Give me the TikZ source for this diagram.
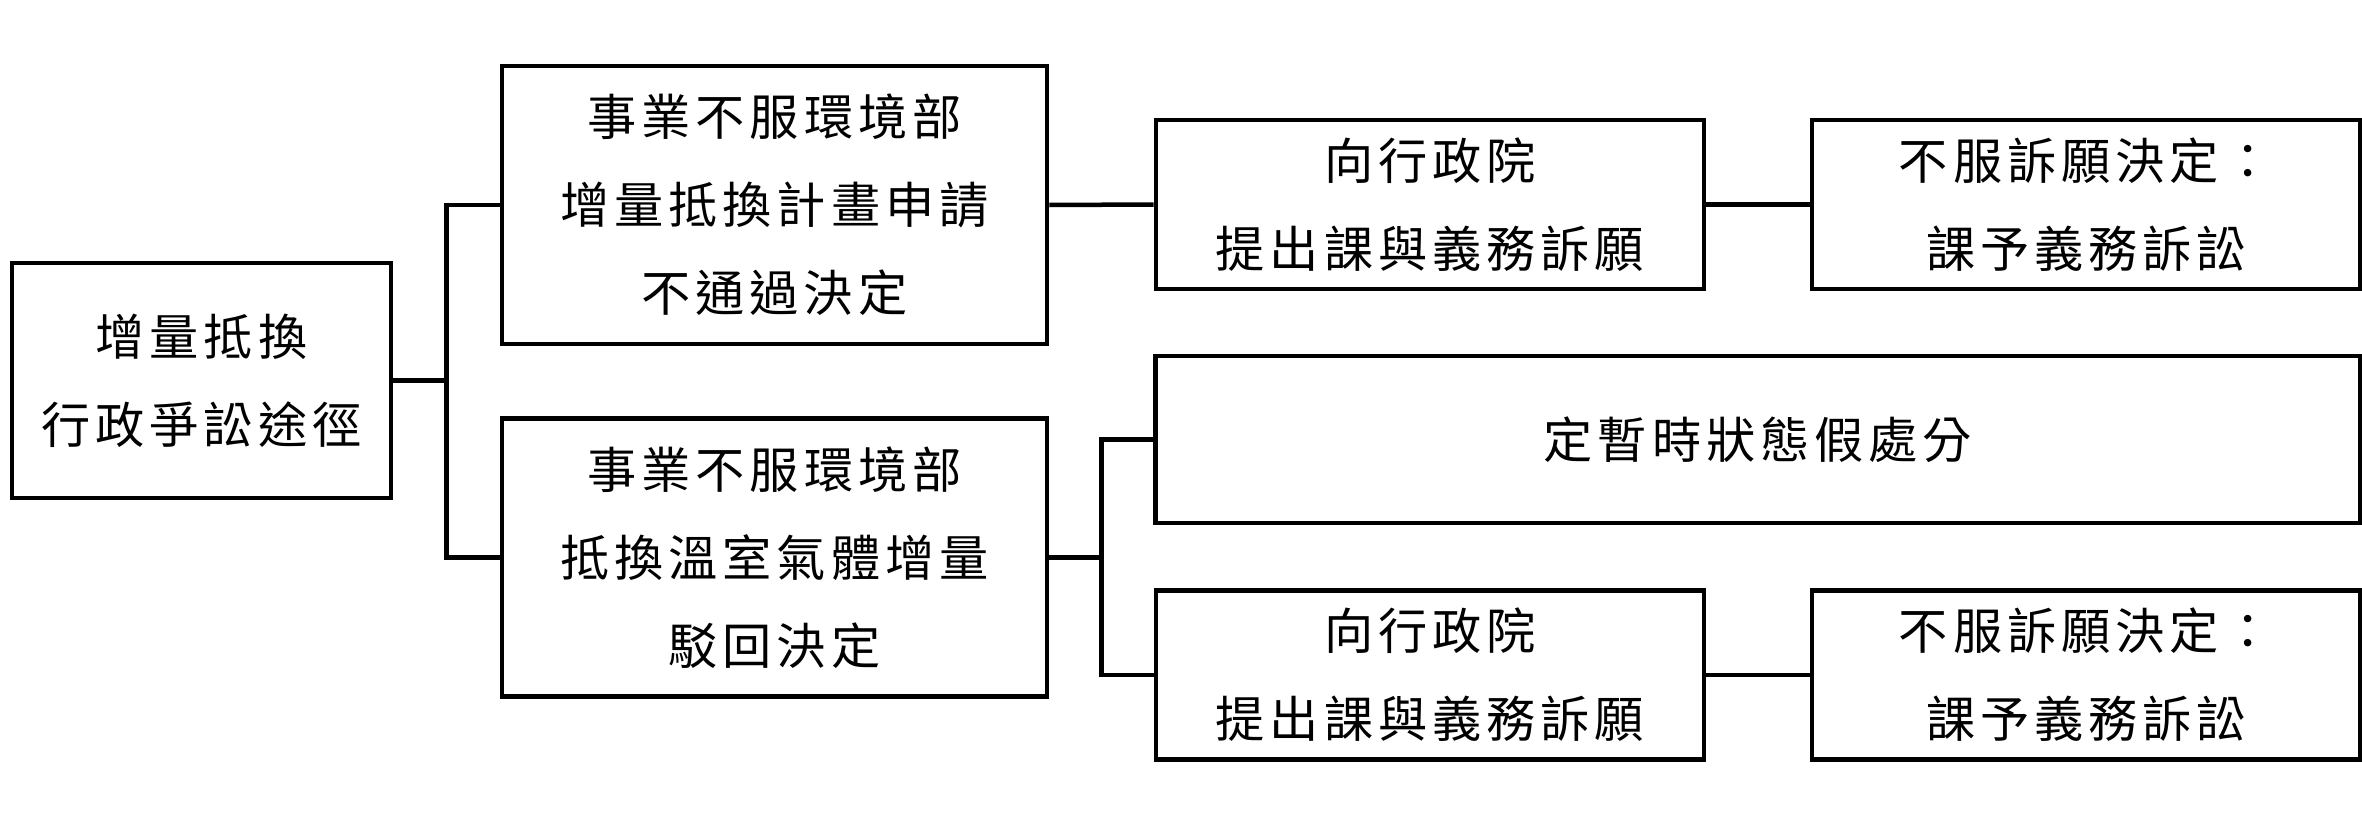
\documentclass[tikz,border=0pt]{standalone}
\usepackage{fontspec}
\newfontfamily\cjk[LetterSpace=10]{Noto Sans CJK TC}

\begin{document}
\begin{tikzpicture}[
	x=0.01cm,
	y=-0.01cm,
	root/.style={
		rectangle,
		draw=black,
		line width=0.045cm,
		align=center,
		font=\cjk\fontsize{14pt}{25pt}\selectfont,
		minimum height=2.35cm,
		minimum width=3.79cm
	},
	decision/.style={
		rectangle,
		draw=black,
		line width=0.045cm,
		align=center,
		font=\cjk\fontsize{14pt}{25pt}\selectfont,
		minimum height=2.78cm,
		minimum width=5.45cm
	},
	remedy/.style={
		rectangle,
		draw=black,
		line width=0.045cm,
		align=center,
		font=\cjk\fontsize{14pt}{25pt}\selectfont,
		minimum height=1.69cm,
		minimum width=5.48cm
	},
	interim/.style={
		rectangle,
		draw=black,
		line width=0.045cm,
		align=center,
		font=\cjk\fontsize{14pt}{25pt}\selectfont,
		minimum height=1.67cm,
		minimum width=12.04cm
	},
	link/.style={
		line width=0.045cm
	},
]

\useasboundingbox (0, 0) rectangle (2362, 824);

\node[root] (route) at (201.5, 380.5) {增量抵換\\行政爭訟途徑};

\node[decision] (reject1) at (774.5, 205) {事業不服環境部\\增量抵換計畫申請\\不通過決定};
\node[decision] (reject2) at (774.5, 557.5) {事業不服環境部\\抵換溫室氣體增量\\駁回決定};

\node[remedy] (appeal1) at (1430, 204.5) {向行政院\\提出課與義務訴願};
\node[remedy] (suit1) at (2086, 204.5) {不服訴願決定：\\課予義務訴訟};

\node[interim] (relief) at (1758, 439.5) {定暫時狀態假處分};

\node[remedy] (appeal2) at (1430, 675) {向行政院\\提出課與義務訴願};
\node[remedy] (suit2) at (2086, 675) {不服訴願決定：\\課予義務訴訟};

\coordinate (fork1) at (446.5, 380.5);
\coordinate (fork2) at (1101.5, 557.5);

\draw[link] (route.east) -- (fork1);
\draw[link] (fork1) |- (reject1.west);
\draw[link] (fork1) |- (reject2.west);

\draw[link] (reject1.east) -- (appeal1.west);
\draw[link] (appeal1.east) -- (suit1.west);

\draw[link] (reject2.east) -- (fork2);
\draw[link] (fork2) |- (relief.west);
\draw[link] (fork2) |- (appeal2.west);
\draw[link] (appeal2.east) -- (suit2.west);

\end{tikzpicture}
\end{document}
